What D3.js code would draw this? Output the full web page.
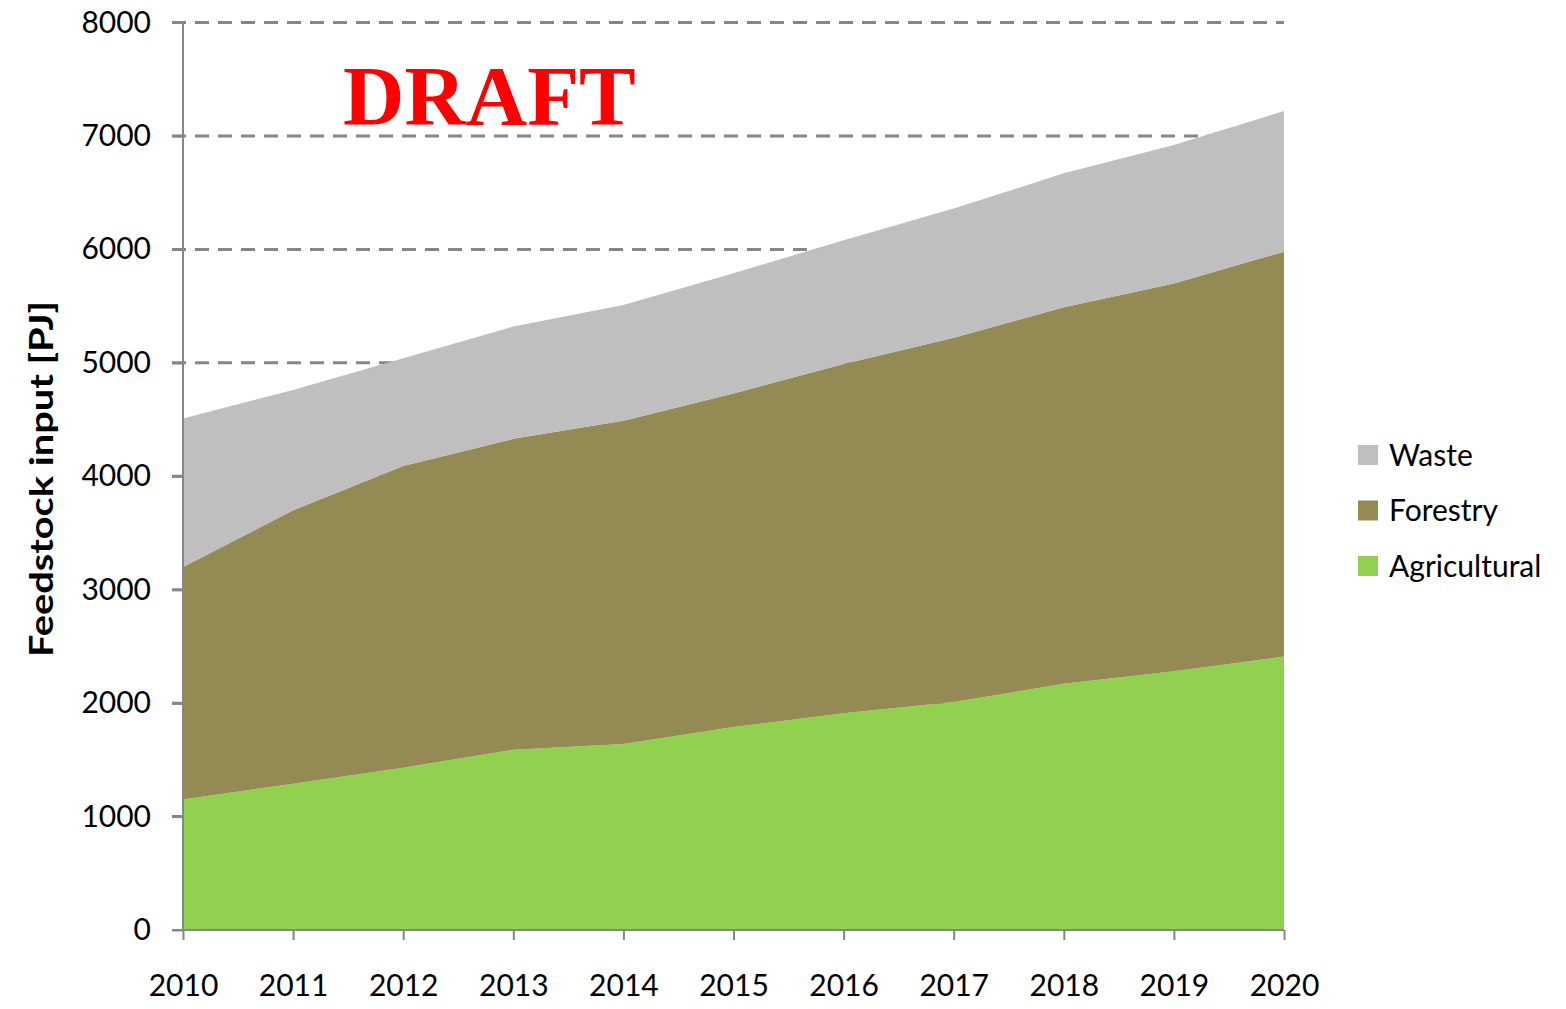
<!DOCTYPE html>
<html>
<head>
<meta charset="utf-8">
<script src="https://cdn.jsdelivr.net/npm/d3@7"></script>
<style>
  body { margin: 0; background: #fff; }
  svg { display: block; font-family: Lato, "Open Sans", sans-serif; }
</style>
</head>
<body>
<svg width="1566" height="1009"></svg>
<script>
// values (PJ)
const years = [2010, 2011, 2012, 2013, 2014, 2015, 2016, 2017, 2018, 2019, 2020];
const agricultural = [1150, 1290, 1430, 1590, 1640, 1790, 1910, 2010, 2170, 2280, 2410];
const forestry = [2050, 2410, 2660, 2740, 2850, 2940, 3080, 3210, 3320, 3420, 3570];
const waste = [1310, 1060, 950, 990, 1020, 1060, 1090, 1140, 1180, 1220, 1240];
const seriesNames = ['Agricultural', 'Forestry', 'Waste'];
const seriesColours = ['#92d050', '#948a54', '#bfbfbf'];
const yTicks = [0, 1000, 2000, 3000, 4000, 5000, 6000, 7000, 8000];

const svg = d3.select('svg');
const x = d3.scaleLinear().domain([2010, 2020]).range([183, 1284]);
const y = d3.scaleLinear().domain([0, 8000]).range([930, 22.5]);
const colour = d3.scaleOrdinal().domain(seriesNames).range(seriesColours);

const rows = years.map((yr, i) => ({
  year: yr,
  Agricultural: agricultural[i],
  Forestry: forestry[i],
  Waste: waste[i]
}));
const stacked = d3.stack().keys(seriesNames)(rows);

// dashed gridlines behind the areas
svg.append('g').selectAll('line').data(yTicks.filter(d => d > 0)).join('line')
  .attr('x1', 172).attr('x2', 1284)
  .attr('y1', d => y(d)).attr('y2', d => y(d))
  .attr('stroke', '#868686').attr('stroke-width', 3)
  .attr('stroke-dasharray', '14,9');

const area = d3.area()
  .x(d => x(d.data.year))
  .y0(d => y(d[0]))
  .y1(d => y(d[1]));

svg.append('g').selectAll('path').data(stacked).join('path')
  .attr('d', area)
  .attr('fill', d => colour(d.key));

// axes
const yAxis = d3.axisLeft(y).tickValues(yTicks).tickSize(11).tickPadding(21).tickFormat(d3.format('d'));
const yG = svg.append('g').attr('transform', 'translate(183,0)').call(yAxis);
const xAxis = d3.axisBottom(x).tickValues(years).tickSize(10).tickPadding(35).tickFormat(d3.format('d'));
const xG = svg.append('g').attr('transform', 'translate(0,930)').call(xAxis);
[yG, xG].forEach(g => {
  g.select('.domain').attr('stroke', '#868686').attr('stroke-width', 2);
  g.selectAll('.tick line').attr('stroke', '#868686').attr('stroke-width', 2);
  g.selectAll('.tick text').attr('fill', '#000').attr('font-size', 30)
    .attr('font-family', 'Lato, "Open Sans", sans-serif');
});
yG.select('.domain').attr('d', 'M-11,22.5H0V930H-11');
xG.select('.domain').attr('d', 'M183,0H1284');

// axis title
svg.append('text')
  .attr('transform', 'translate(53,479) rotate(-90)')
  .attr('text-anchor', 'middle')
  .attr('font-size', 33).attr('font-weight', 'bold')
  .attr('textLength', 356).attr('lengthAdjust', 'spacingAndGlyphs')
  .text('Feedstock input [PJ]');

// watermark
svg.append('text')
  .attr('x', 343).attr('y', 125)
  .attr('font-family', '"Liberation Serif", "Times New Roman", serif')
  .attr('font-weight', 'bold').attr('font-size', 85)
  .attr('fill', '#ff0000')
  .text('DRAFT');

// legend
const legend = svg.append('g').attr('transform', 'translate(1358,455)');
const items = legend.selectAll('g').data(seriesNames.slice().reverse()).join('g')
  .attr('transform', (d, i) => `translate(0,${i * 55.5})`);
items.append('rect').attr('x', 0).attr('y', -10).attr('width', 20).attr('height', 20)
  .attr('fill', d => colour(d));
items.append('text').attr('x', 31).attr('dy', '0.35em')
  .attr('font-size', 30).text(d => d);
</script>
</body>
</html>
